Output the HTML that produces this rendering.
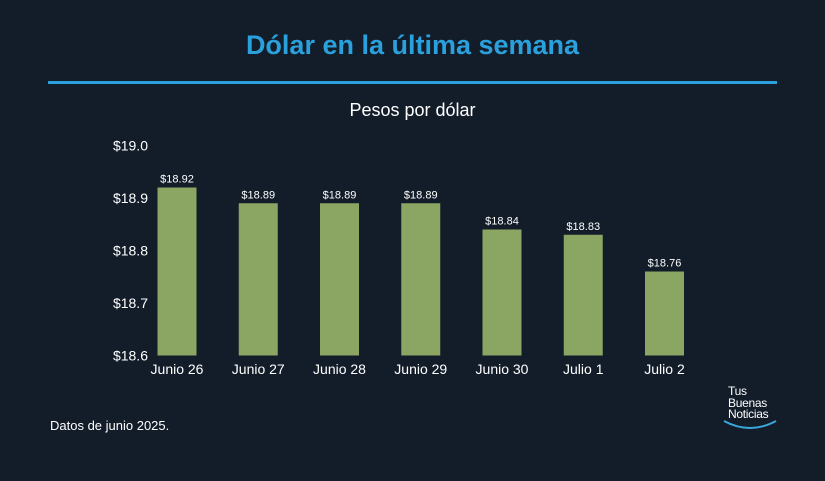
<!DOCTYPE html>
<html><head><meta charset="utf-8"><style>
body{margin:0;width:825px;height:481px;background:#131c29;font-family:"Liberation Sans",sans-serif;overflow:hidden;position:relative}
.t{position:absolute;color:#fff}
</style></head><body>
<div class="t" style="left:0;width:825px;top:30px;text-align:center;font-size:27px;font-weight:bold;color:#2aa0dc">Dólar en la última semana</div>
<div style="position:absolute;left:48px;top:81px;width:729px;height:3px;background:#2aa0dc"></div>
<div class="t" style="left:0;width:825px;top:100px;text-align:center;font-size:18px">Pesos por dólar</div>
<svg id="c" width="825" height="481" style="position:absolute;left:0;top:0"></svg>
<div class="t" style="left:50px;top:418px;font-size:13px">Datos de junio 2025.</div>
<div style="position:absolute;left:728px;top:386px;color:#fff;font-size:12px;line-height:11.5px;letter-spacing:-0.3px">Tus<br>Buenas<br>Noticias</div>
<svg width="60" height="14" style="position:absolute;left:722px;top:419px"><path d="M2 2 Q28 16 54 2" stroke="#3aa6d8" stroke-width="2" fill="none"/></svg>
<script>
const categories=["Junio 26","Junio 27","Junio 28","Junio 29","Junio 30","Julio 1","Julio 2"];
const values=[18.92,18.89,18.89,18.89,18.84,18.83,18.76];
const ticks=[18.6,18.7,18.8,18.9,19.0];
const ymin=18.6,ymax=19.0,y0=355.5,y1=145.5;
const y=v=>y0-(v-ymin)/(ymax-ymin)*(y0-y1);
const x=i=>177+i*81.25;
const NS="http://www.w3.org/2000/svg",svg=document.getElementById('c');
function mk(t,a,txt){const e=document.createElementNS(NS,t);for(const k in a)e.setAttribute(k,a[k]);if(txt!=null)e.textContent=txt;svg.appendChild(e);return e;}
ticks.forEach(v=>{const e=mk('text',{x:148,y:y(v)+5,'text-anchor':'end',fill:'#fff','font-size':14,'font-family':'Liberation Sans'},'$'+v.toFixed(1));

});
values.forEach((v,i)=>{const r=mk('rect',{x:x(i)-19.5,y:y(v),width:39,height:y0-y(v),fill:'#8aa662'});


const l=mk('text',{x:x(i),y:y(v)-5,'text-anchor':'middle',fill:'#fff','font-size':11,'font-family':'Liberation Sans'},'$'+v.toFixed(2));


const c=mk('text',{x:x(i),y:374,'text-anchor':'middle',fill:'#fff','font-size':14,'font-family':'Liberation Sans'},categories[i]);

});
</script>
</body></html>
